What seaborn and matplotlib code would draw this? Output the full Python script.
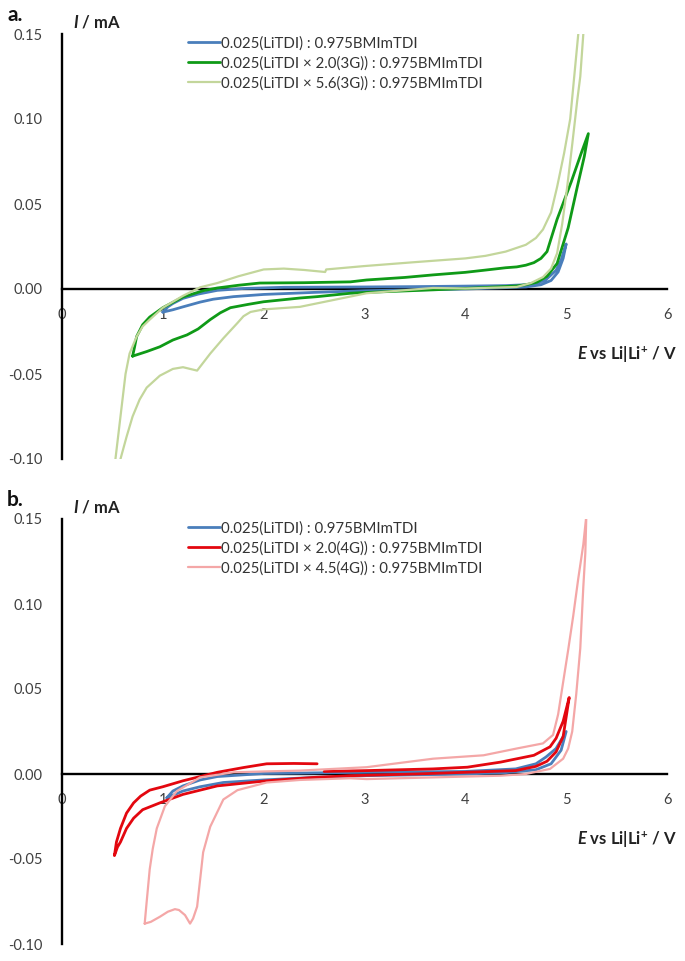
import matplotlib
matplotlib.use("Agg")
import matplotlib.pyplot as plt
import seaborn as sns
from matplotlib.ticker import FormatStrFormatter

sns.set_theme(style="white")
plt.rcParams["font.family"] = ["Lato", "DejaVu Sans"]
plt.rcParams["mathtext.fontset"] = "custom"
plt.rcParams["mathtext.rm"] = "Lato:bold"
plt.rcParams["mathtext.it"] = "Lato:italic:bold"
plt.rcParams["mathtext.bf"] = "Lato:bold"
plt.rcParams["axes.unicode_minus"] = False

# ---------------- labels ----------------
labels_a = ["0.025(LiTDI) : 0.975BMImTDI",
            "0.025(LiTDI × 2.0(3G)) : 0.975BMImTDI",
            "0.025(LiTDI × 5.6(3G)) : 0.975BMImTDI"]
labels_b = ["0.025(LiTDI) : 0.975BMImTDI",
            "0.025(LiTDI × 2.0(4G)) : 0.975BMImTDI",
            "0.025(LiTDI × 4.5(4G)) : 0.975BMImTDI"]

# ---------------- data (panel a) ----------------
blue_a_x = [1.00, 1.05, 1.10, 1.20, 1.35, 1.54, 1.80, 2.20, 3.00, 3.50, 4.00, 4.40, 4.60, 4.70, 4.80, 4.90, 4.95, 5.00,
            4.97, 4.92, 4.85, 4.75, 4.60, 4.00, 3.50, 3.00, 2.50, 2.00, 1.70, 1.50, 1.37, 1.20, 1.10, 1.00]
blue_a_y = [-0.0136, -0.0105, -0.0085, -0.0055, -0.0030, -0.0008, 0.0003, 0.0010, 0.0012, 0.0014, 0.0017, 0.0020, 0.0025, 0.0032, 0.0055, 0.0110, 0.0170, 0.0265,
            0.0180, 0.0100, 0.0050, 0.0025, 0.0012, 0.0000, -0.0005, -0.0010, -0.0020, -0.0032, -0.0045, -0.0060, -0.0077, -0.0105, -0.0122, -0.0136]

green_a_x = [0.70, 0.72, 0.74, 0.80, 0.87, 1.00, 1.20, 1.40, 1.54, 1.75, 1.96, 2.40, 2.86, 3.02, 3.40, 3.68, 4.00, 4.18, 4.40, 4.51, 4.60, 4.68, 4.75, 4.81, 4.91, 5.05, 5.15, 5.22,
             5.18, 5.11, 5.02, 4.91, 4.81, 4.71, 4.60, 4.51, 4.02, 3.68, 3.02, 2.86, 2.53, 2.36, 2.00, 1.85, 1.67, 1.57, 1.47, 1.35, 1.24, 1.10, 0.97, 0.84, 0.70]
green_a_y = [-0.0395, -0.0340, -0.0280, -0.0210, -0.0165, -0.0110, -0.0047, -0.0010, 0.0006, 0.0022, 0.0035, 0.0037, 0.0042, 0.0053, 0.0068, 0.0083, 0.0098, 0.0110, 0.0125, 0.0130, 0.0140, 0.0155, 0.0180, 0.0220, 0.0410, 0.0630, 0.0800, 0.0914,
             0.0780, 0.0600, 0.0360, 0.0150, 0.0075, 0.0040, 0.0025, 0.0018, 0.0004, -0.0005, -0.0020, -0.0025, -0.0045, -0.0053, -0.0075, -0.0090, -0.0110, -0.0140, -0.0180, -0.0235, -0.0270, -0.0300, -0.0340, -0.0368, -0.0395]

lgreen_a_x = [0.50, 0.53, 0.56, 0.59, 0.63, 0.67, 0.74, 0.80, 0.87, 1.00, 1.20, 1.37, 1.54, 1.75, 2.00, 2.20, 2.40, 2.61, 2.62, 3.00, 3.50, 4.00, 4.20, 4.40, 4.60, 4.70, 4.77, 4.85, 4.91, 4.98, 5.04, 5.08, 5.12, 5.15,
              5.16, 5.17, 5.14, 5.11, 5.06, 5.01, 4.96, 4.91, 4.85, 4.77, 4.65, 4.51, 4.00, 3.68, 3.02, 2.36, 2.00, 1.87, 1.80, 1.74, 1.60, 1.47, 1.34, 1.27, 1.20, 1.10, 0.97, 0.84, 0.77, 0.70, 0.64, 0.58, 0.55]
lgreen_a_y = [-0.125, -0.100, -0.085, -0.070, -0.050, -0.038, -0.028, -0.022, -0.018, -0.011, -0.004, 0.001, 0.0035, 0.0075, 0.0115, 0.0120, 0.0112, 0.0100, 0.0115, 0.0135, 0.0158, 0.0180, 0.0195, 0.0220, 0.0260, 0.0300, 0.0350, 0.0450, 0.0600, 0.0800, 0.1000, 0.1250, 0.1500, 0.1700,
              0.1750, 0.1500, 0.1250, 0.1110, 0.0850, 0.0600, 0.0380, 0.0210, 0.0120, 0.0070, 0.0035, 0.0012, 0.0003, 0.0006, -0.0025, -0.0105, -0.0120, -0.0135, -0.0160, -0.0200, -0.0290, -0.0380, -0.0480, -0.0470, -0.0460, -0.0470, -0.0510, -0.0580, -0.0650, -0.0750, -0.0870, -0.1000, -0.1250]

# ---------------- data (panel b) ----------------
blue_b_x = [1.04, 1.10, 1.20, 1.37, 1.54, 2.00, 3.00, 4.00, 4.50, 4.70, 4.80, 4.90, 5.00,
            4.95, 4.85, 4.70, 4.40, 4.00, 3.00, 2.50, 2.00, 1.60, 1.37, 1.20, 1.04]
blue_b_y = [-0.0140, -0.0100, -0.0070, -0.0035, -0.0015, 0.0003, 0.0010, 0.0015, 0.0030, 0.0060, 0.0100, 0.0150, 0.0250,
            0.0140, 0.0060, 0.0025, 0.0008, 0.0000, -0.0010, -0.0020, -0.0035, -0.0050, -0.0075, -0.0100, -0.0140]

red_b_x = [2.53, 2.30, 2.03, 1.80, 1.54, 1.37, 1.20, 1.00, 0.87, 0.78, 0.71, 0.64, 0.58, 0.54, 0.52,
           0.55, 0.58, 0.64, 0.71, 0.80, 0.97, 1.20, 1.54, 2.03, 2.50, 2.86, 3.50, 4.00, 4.50, 4.70, 4.81, 4.90, 4.97, 5.03,
           4.97, 4.90, 4.84, 4.68, 4.35, 4.02, 3.68, 3.02, 2.60]
red_b_y = [0.0060, 0.0062, 0.0060, 0.0038, 0.0010, -0.0015, -0.0040, -0.0075, -0.0095, -0.0130, -0.0170, -0.0230, -0.0320, -0.0400, -0.0480,
           -0.0430, -0.0400, -0.0320, -0.0260, -0.0210, -0.0170, -0.0120, -0.0070, -0.0040, -0.0020, -0.0010, 0.0000, 0.0010, 0.0020, 0.0045, 0.0075, 0.0130, 0.0220, 0.0450,
           0.0310, 0.0210, 0.0160, 0.0110, 0.0070, 0.0040, 0.0030, 0.0020, 0.0015]

pink_b_x = [0.82, 0.84, 0.87, 0.90, 0.94, 1.02, 1.14, 1.37, 1.70, 2.00, 2.36, 3.02, 3.68, 4.18, 4.51, 4.77, 4.87, 4.92, 4.97, 5.02, 5.07, 5.12, 5.17, 5.20,
            5.19, 5.17, 5.14, 5.10, 5.06, 5.02, 4.97, 4.84, 4.60, 4.35, 3.68, 3.02, 2.86, 2.36, 2.03, 1.74, 1.60, 1.47, 1.40, 1.37, 1.34, 1.30, 1.27, 1.22, 1.16, 1.12, 1.05, 0.97, 0.88, 0.82]
pink_b_y = [-0.088, -0.075, -0.056, -0.044, -0.032, -0.019, -0.010, -0.002, 0.001, 0.0015, 0.002, 0.004, 0.009, 0.011, 0.015, 0.018, 0.023, 0.035, 0.054, 0.073, 0.093, 0.115, 0.135, 0.152,
            0.130, 0.110, 0.074, 0.047, 0.025, 0.015, 0.009, 0.003, 0.000, -0.001, -0.002, -0.003, -0.0025, -0.0035, -0.005, -0.0095, -0.015, -0.031, -0.046, -0.062, -0.078, -0.085, -0.088, -0.083, -0.080, -0.0795, -0.081, -0.084, -0.087, -0.088]

x_ticks = [0, 1, 2, 3, 4, 5, 6]
y_ticks = [-0.10, -0.05, 0.00, 0.05, 0.10, 0.15]

colors_a = ["#4A7EBB", "#0F9A17", "#C3D69B"]
colors_b = ["#4A7EBB", "#E3070F", "#F4A7A7"]
widths_a = [2.0, 2.0, 1.6]
widths_b = [2.0, 2.0, 1.6]

W, H = 685, 961
fig = plt.figure(figsize=(W / 100, H / 100), dpi=100)
fig.patch.set_facecolor("white")

def px(x, y):
    return x / W, 1 - y / H

def panel(top_px, series, labels, colors, widths, letter):
    bot_px = top_px + 425
    ax = fig.add_axes([62 / W, 1 - bot_px / H, 605 / W, 425 / H])
    ax.set_facecolor("white")
    for (xs, ys), lab, c, w in zip(series, labels, colors, widths):
        sns.lineplot(x=xs, y=ys, sort=False, estimator=None, color=c, lw=w, ax=ax, label=lab)
    ax.set_xlim(0, 6)
    ax.set_ylim(-0.10, 0.15)
    ax.set_xticks(x_ticks)
    ax.set_yticks(y_ticks)
    ax.yaxis.set_major_formatter(FormatStrFormatter("%.2f"))
    for s in ["top", "right"]:
        ax.spines[s].set_visible(False)
    for s in ["left", "bottom"]:
        ax.spines[s].set_color("black")
        ax.spines[s].set_linewidth(1.7)
        ax.spines[s].set_position(("data", 0))
        ax.spines[s].set_zorder(1)
    ax.tick_params(axis="both", which="major", direction="out", length=4, width=1.7,
                   color="black", labelcolor="#404040", labelsize=10.5)
    ax.tick_params(axis="y", pad=10)
    ax.tick_params(axis="x", pad=10)
    ax.set_xlabel("")
    ax.set_ylabel("")
    ax.grid(False)
    leg = ax.legend(loc="upper left", bbox_to_anchor=((188 - 62) / 605, 1 - 2 / 425),
                    frameon=False, fontsize=10.8, handlelength=2.1, handletextpad=0.1,
                    labelspacing=0.38, borderpad=0, borderaxespad=0)
    for t in leg.get_texts():
        t.set_color("#333333")
    fig.text(*px(7, top_px - 19), letter, fontsize=15, fontweight="bold", ha="left", va="center", color="#111111")
    fig.text(*px(73, top_px - 12), r"$\mathit{I}$ / mA", fontsize=12, fontweight="bold", ha="left", va="center", color="#222222")
    fig.text(*px(677, top_px + 321), r"$\mathit{E}$ vs Li|Li$^{+}$ / V", fontsize=12, fontweight="bold",
             ha="right", va="center", color="#222222")
    return ax

panel(34, [(blue_a_x, blue_a_y), (green_a_x, green_a_y), (lgreen_a_x, lgreen_a_y)], labels_a, colors_a, widths_a, "a.")
panel(519, [(blue_b_x, blue_b_y), (red_b_x, red_b_y), (pink_b_x, pink_b_y)], labels_b, colors_b, widths_b, "b.")

fig.savefig("out.png", dpi=100, facecolor="white")
